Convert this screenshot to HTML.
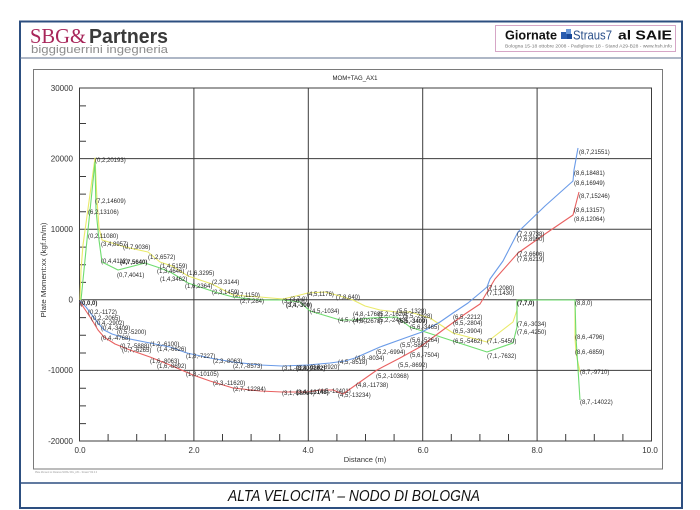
<!DOCTYPE html>
<html><head><meta charset="utf-8"><style>
html,body{margin:0;padding:0;background:#fff;}
svg{display:block;}
.l{font-size:6px;fill:#2a2a2a;}
.b{font-weight:bold;}
.t{font-size:8px;fill:#333;}
</style></head><body>
<svg width="700" height="510" viewBox="0 0 700 510" xmlns="http://www.w3.org/2000/svg" font-family="Liberation Sans, Arial, sans-serif">
<rect x="0" y="0" width="700" height="510" fill="#fff"/>
<!-- outer frame -->
<rect x="20" y="21.5" width="662" height="486.5" fill="none" stroke="#2d4f80" stroke-width="2"/>
<line x1="20" y1="58" x2="682" y2="58" stroke="#5d6f8c" stroke-width="1"/>
<line x1="20" y1="483" x2="682" y2="483" stroke="#2d4f80" stroke-width="1.5"/>
<!-- left logo -->
<text x="30" y="43" font-family="Liberation Serif, serif" font-size="21" fill="#a8265a" textLength="56" lengthAdjust="spacingAndGlyphs">SBG&amp;</text>
<text x="89" y="43" font-size="20" font-weight="bold" fill="#3a3a3a" textLength="79" lengthAdjust="spacingAndGlyphs">Partners</text>
<text x="31" y="53" font-size="11" fill="#8c8c8c" textLength="137" lengthAdjust="spacingAndGlyphs">biggiguerrini ingegneria</text>
<!-- right logo -->
<rect x="495.5" y="25.5" width="180" height="26" fill="#fff" stroke="#d6a6c6" stroke-width="1"/>
<text x="505" y="39.5" font-size="12.5" font-weight="bold" fill="#111" textLength="52" lengthAdjust="spacingAndGlyphs">Giornate</text>
<rect x="561" y="32" width="6" height="7" fill="#2a5db0"/>
<rect x="566" y="29" width="5" height="5" fill="#6a98d8"/>
<rect x="567" y="34" width="5" height="5" fill="#1a4a9a"/>
<text x="573" y="39.5" font-size="13" fill="#2a4f8a" textLength="39" lengthAdjust="spacingAndGlyphs">Straus7</text>
<text x="618" y="39.5" font-size="12.5" font-weight="bold" fill="#111" textLength="54" lengthAdjust="spacingAndGlyphs">al SAIE</text>
<text x="505" y="47.5" font-size="4.5" fill="#777" textLength="167" lengthAdjust="spacingAndGlyphs">Bologna 15-18 ottobre 2008 - Padiglione 18 - Stand A29-B28 - www.hsh.info</text>
<!-- chart frame -->
<rect x="33.5" y="69.5" width="629" height="399.5" fill="#fff" stroke="#7a7a7a" stroke-width="1"/>
<text x="355" y="80" text-anchor="middle" font-size="6.5" fill="#222" textLength="45" lengthAdjust="spacingAndGlyphs">MOM+TAG_AX1</text>
<text x="35" y="473" font-size="3" fill="#999" textLength="62" lengthAdjust="spacingAndGlyphs">Plate Moment:xx Distance MOM+TAG_AX1 - Straus7 R2.3.3</text>
<!-- grid -->
<g stroke="#3c3c3c" stroke-width="1" fill="none">
<rect x="79.5" y="88" width="572" height="353"/>
<line x1="193.9" y1="88" x2="193.9" y2="441"/>
<line x1="308.3" y1="88" x2="308.3" y2="441"/>
<line x1="422.7" y1="88" x2="422.7" y2="441"/>
<line x1="537.1" y1="88" x2="537.1" y2="441"/>
<line x1="79.5" y1="158.6" x2="651.5" y2="158.6"/>
<line x1="79.5" y1="229.2" x2="651.5" y2="229.2"/>
<line x1="79.5" y1="299.8" x2="651.5" y2="299.8"/>
<line x1="79.5" y1="370.4" x2="651.5" y2="370.4"/>
</g>
<g stroke="#3c3c3c" stroke-width="1">
<path d="M80 105.9h6M80 123.5h6M80 141.2h6M80 176.5h6M80 194.1h6M80 211.8h6M80 247.1h6M80 264.7h6M80 282.4h6M80 317.6h6M80 335.3h6M80 353h6M80 388.3h6M80 405.9h6M80 423.6h6"/>
<path d="M108.1 441v-7M136.7 441v-7M165.3 441v-7M222.5 441v-7M251.1 441v-7M279.7 441v-7M336.9 441v-7M365.5 441v-7M394.1 441v-7M451.3 441v-7M479.9 441v-7M508.5 441v-7M565.7 441v-7M594.3 441v-7M622.9 441v-7"/>
</g>
<!-- tick labels -->
<g class="t" text-anchor="end">
<text x="73" y="91">30000</text>
<text x="73" y="161.5">20000</text>
<text x="73" y="232">10000</text>
<text x="73" y="302.5">0</text>
<text x="73" y="373">-10000</text>
<text x="73" y="444">-20000</text>
</g>
<g class="t" text-anchor="middle">
<text x="80" y="453">0.0</text>
<text x="194" y="453">2.0</text>
<text x="308" y="453">4.0</text>
<text x="423" y="453">6.0</text>
<text x="537" y="453">8.0</text>
<text x="650" y="453">10.0</text>
<text x="365" y="462" font-size="7.5">Distance (m)</text>
</g>
<text transform="translate(46,270) rotate(-90)" text-anchor="middle" font-size="7.5" fill="#333" textLength="95" lengthAdjust="spacingAndGlyphs">Plate Moment:xx (kgf.m/m)</text>
<!-- series -->
<g fill="none" stroke-width="1.1" stroke-linejoin="round">
<polyline stroke="#eaea6a" points="80,300 81,270 83,245 95,158 97,200 99,228 102,240 112,243 125,247 148,252 160,262 172,266 188,276 212,284 233,295 260,297 283,299 296,296 308,293 325,292 340,296 353,300 365,306 380,310 397,312 410,312 430,318 453,333 487,342 513,322 517,310 517,300 575,300 575,338 576,353 580,372"/>
<polyline stroke="#6fdc6f" points="81,300 84,270 88,230 95,162 96,210 99,240 102,262 118,270 145,263 160,268 172,273 188,283 215,292 233,297 260,300 283,300 300,302 310,311 340,320 353,320 370,318 397,317 410,327 453,341 487,352 513,343 517,327 517,300 575,300 576,338 577,353 580,400"/>
<polyline stroke="#6a9be8" points="80,301 86,307 92,315 98,323 104,330 112,334 125,338 150,343 170,347 187,353 210,358 233,362 260,365 282,366 308,365 330,363 345,361 355,358 380,347 405,338 422,332 440,322 453,313 468,303 480,293 487,287 490,279 503,261 518,232 545,206 573,181 574,170 578,148"/>
<polyline stroke="#e86060" points="80,302 86,311 92,320 98,330 104,337 115,344 130,350 150,357 170,365 193,375 210,381 233,388 260,391 282,392 308,392 320,390 333,390 343,394 360,382 377,370 400,358 420,347 447,327 465,314 480,304 495,279 518,253 545,234 573,215 579,192"/>
</g>
<!-- labels -->
<g class="l">
<text x="95" y="162">(0,2,20193)</text>
<text x="95" y="203">(7,2,14609)</text>
<text x="88" y="214">(6,2,13106)</text>
<text x="88" y="238">(0,2,11080)</text>
<text x="101" y="246">(3,4,8957)</text>
<text x="123" y="249">(0,7,9036)</text>
<text x="148" y="259">(1,2,6572)</text>
<text x="101" y="263">(0,4,4112)</text>
<text x="120" y="264" class="b">(0,7,5640)</text>
<text x="160" y="268">(1,4,5159)</text>
<text x="157" y="273">(1,3,4646)</text>
<text x="117" y="277">(0,7,4041)</text>
<text x="160" y="281">(1,4,3462)</text>
<text x="187" y="275">(1,6,3295)</text>
<text x="185" y="288">(1,6,2364)</text>
<text x="212" y="284">(2,3,3144)</text>
<text x="212" y="294">(2,3,1459)</text>
<text x="233" y="297">(2,7,1150)</text>
<text x="240" y="303">(2,7,284)</text>
<text x="80" y="305" class="b">(0,0,0)</text>
<text x="88" y="314">(0,2,-1172)</text>
<text x="91" y="320">(0,2,-2065)</text>
<text x="95" y="325">(0,4,-2902)</text>
<text x="101" y="330">(0,4,-3409)</text>
<text x="101" y="340">(0,4,-4768)</text>
<text x="117" y="334">(0,5,-5200)</text>
<text x="120" y="348">(0,7,-5888)</text>
<text x="122" y="352">(0,7,-6265)</text>
<text x="150" y="346">(1,2,-6100)</text>
<text x="157" y="351">(1,4,-6626)</text>
<text x="150" y="363">(1,6,-8063)</text>
<text x="157" y="368">(1,6,-8692)</text>
<text x="186" y="358">(1,8,-7227)</text>
<text x="213" y="363">(2,3,-8063)</text>
<text x="233" y="368">(2,7,-8573)</text>
<text x="186" y="376">(1,8,-10105)</text>
<text x="213" y="385">(2,3,-11620)</text>
<text x="233" y="391">(2,7,-12284)</text>
<text x="282" y="370">(3,1,-9230)</text>
<text x="296" y="370" class="b">(3,4,-9262)</text>
<text x="310" y="369">(3,8,-8920)</text>
<text x="282" y="395">(3,1,-13064)</text>
<text x="296" y="394" class="b">(3,4,-13148)</text>
<text x="318" y="393">(4,5,-12401)</text>
<text x="282" y="303">(3,1,-60)</text>
<text x="286" y="307" class="b">(3,4,-300)</text>
<text x="290" y="301">(3,7,0)</text>
<text x="307" y="296">(4,5,1176)</text>
<text x="336" y="299">(7,8,640)</text>
<text x="310" y="313">(4,5,-1034)</text>
<text x="353" y="316">(4,8,-1768)</text>
<text x="338" y="322">(4,5,-2442)</text>
<text x="353" y="323">(4,8,-2678)</text>
<text x="378" y="316">(5,2,-1620)</text>
<text x="378" y="322">(5,2,-2413)</text>
<text x="397" y="313">(5,5,-1328)</text>
<text x="403" y="318">(5,5,-2928)</text>
<text x="398" y="323" class="b">(5,5,-3409)</text>
<text x="410" y="329">(5,6,-3465)</text>
<text x="453" y="319">(6,5,-2212)</text>
<text x="453" y="325">(6,5,-2804)</text>
<text x="453" y="333">(6,5,-3904)</text>
<text x="410" y="342">(5,6,-5264)</text>
<text x="400" y="347">(5,5,-5862)</text>
<text x="376" y="354">(5,2,-6994)</text>
<text x="355" y="360">(4,8,-8034)</text>
<text x="338" y="364">(4,5,-8518)</text>
<text x="410" y="357">(5,6,-7504)</text>
<text x="398" y="367">(5,5,-8692)</text>
<text x="376" y="378">(5,2,-10368)</text>
<text x="356" y="387">(4,8,-11738)</text>
<text x="338" y="397">(4,5,-13234)</text>
<text x="453" y="343">(6,5,-5462)</text>
<text x="487" y="343">(7,1,-5450)</text>
<text x="487" y="358">(7,1,-7632)</text>
<text x="517" y="326">(7,6,-3034)</text>
<text x="517" y="334">(7,6,-4250)</text>
<text x="517" y="305" class="b">(7,7,0)</text>
<text x="487" y="290">(7,1,2080)</text>
<text x="487" y="295">(7,1,1430)</text>
<text x="575" y="305">(8,8,0)</text>
<text x="575" y="339">(8,6,-4796)</text>
<text x="575" y="354">(8,6,-6859)</text>
<text x="580" y="374">(8,7,-9710)</text>
<text x="580" y="404">(8,7,-14022)</text>
<text x="579" y="154">(8,7,21551)</text>
<text x="574" y="175">(8,6,18481)</text>
<text x="574" y="185">(8,6,16949)</text>
<text x="579" y="198">(8,7,15246)</text>
<text x="574" y="212">(8,6,13157)</text>
<text x="574" y="221">(8,6,12064)</text>
<text x="517" y="236">(7,2,9738)</text>
<text x="517" y="241">(7,6,8990)</text>
<text x="517" y="256">(7,2,6606)</text>
<text x="517" y="261">(7,6,6219)</text>
</g>
<!-- footer -->
<text x="354" y="501" text-anchor="middle" font-style="italic" font-size="16" fill="#111" textLength="252" lengthAdjust="spacingAndGlyphs">ALTA VELOCITA' – NODO DI BOLOGNA</text>
</svg>
</body></html>
